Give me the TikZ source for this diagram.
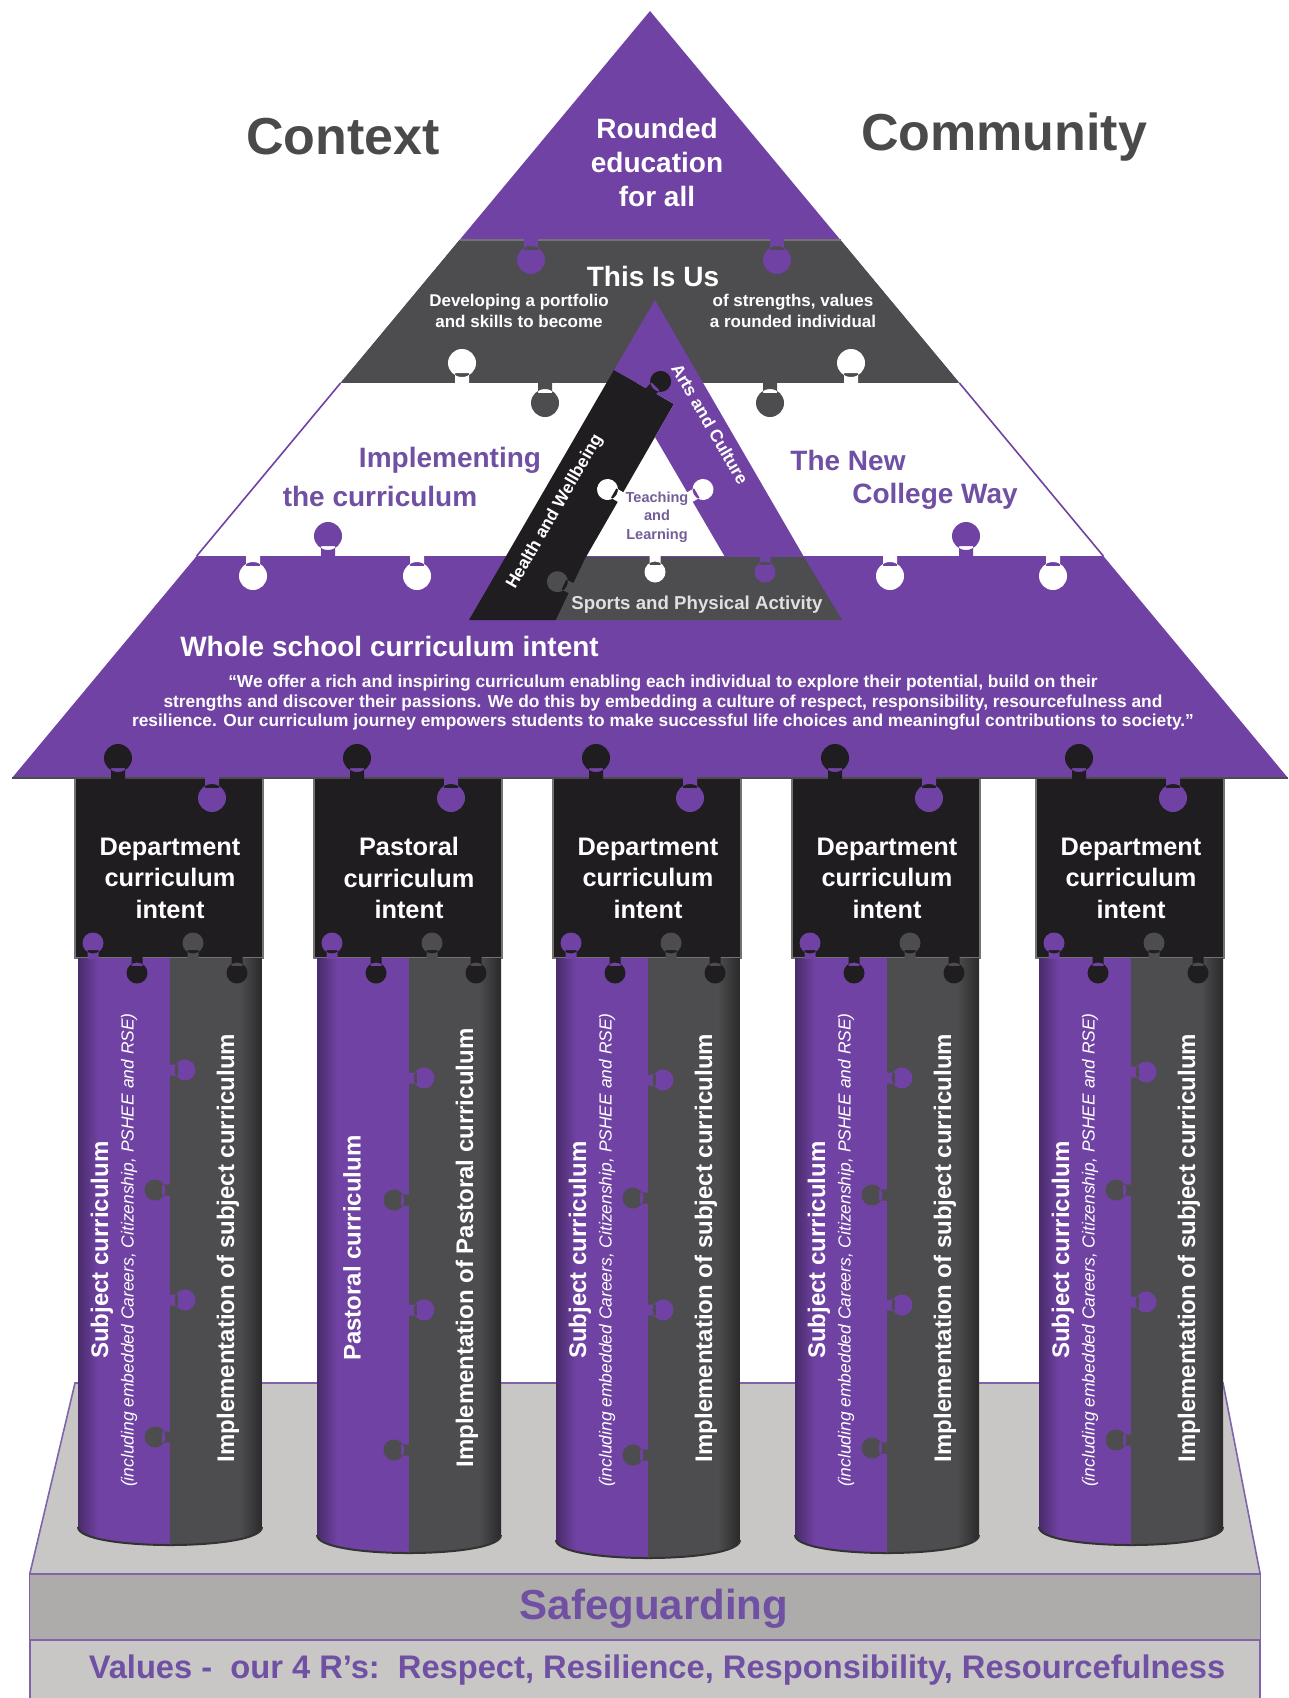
\documentclass[tikz,border=0pt]{standalone}
\usepackage{fontspec}
\setmainfont{Liberation Sans}
\usepackage{tikz}

\definecolor{schpurple}{RGB}{112,66,163}
\definecolor{schgrey}{RGB}{77,76,78}
\definecolor{schblack}{RGB}{31,29,32}
\definecolor{schtext}{RGB}{111,80,163}
\definecolor{titlegrey}{RGB}{74,74,74}
\definecolor{plinth}{RGB}{201,199,198}
\definecolor{plinthdark}{RGB}{174,171,171}
\definecolor{plinthline}{RGB}{128,100,170}

%puzzle knob: colour, point on the edge, direction (0 right, 90 down, -90 up)
\newcommand{\knob}[3]{\fill[#1, shift={#2}, rotate=#3] (-1,-7) rectangle (10,7) (20,0) circle (14);}
\newcommand{\smallknob}[3]{\fill[#1, shift={#2}, rotate=#3] (-1,-5.5) rectangle (8,5.5) (15,0) circle (10.5);}
%second line on the purple half of a shaft
\newcommand{\shaftnote}{\mdseries\itshape\fontsize{13.1}{15}\selectfont}

\begin{document}
\begin{tikzpicture}[x=0.75pt,y=0.75pt,yscale=-1,xscale=1,
  title/.style={text=titlegrey, font=\bfseries\fontsize{39}{47}\selectfont, inner sep=0.75pt},
  bandtext/.style={text=white, font=\bfseries\fontsize{21}{25.5}\selectfont, align=center, inner sep=0.75pt},
  bandsmall/.style={text=white, font=\bfseries\fontsize{12.75}{15.75}\selectfont, align=center, inner sep=0.75pt},
  violettext/.style={text=schtext, font=\bfseries\fontsize{21}{25.5}\selectfont, inner sep=0.75pt},
  quotetext/.style={text=white, font=\bfseries\fontsize{13}{14.6}\selectfont, align=center, inner sep=0.75pt},
  ringtext/.style={text=white, font=\bfseries\fontsize{13}{15}\selectfont, inner sep=0.75pt},
  captext/.style={text=white, font=\bfseries\fontsize{19}{23.6}\selectfont, align=center, inner sep=0.75pt},
  shafttext/.style={text=white, font=\bfseries\fontsize{18}{19}\selectfont, rotate=90, align=center, inner sep=0.75pt},
  plinthtext/.style={text=schtext, font=\bfseries\fontsize{24.5}{29}\selectfont, inner sep=0.75pt},
  capedge/.style={draw=black!55, line width=1.2},
  shaftedge/.style={draw=black!80, line width=1.5},
  purplerim/.style={left color=schpurple!65!black, right color=schpurple},
  greyrim/.style={left color=schgrey, right color=schgrey!55!black}
]
\useasboundingbox (0,0) rectangle (1288,1698);

%Shape: Polygon [plinth]
\fill[plinth] (75,1383) -- (1223,1383) -- (1260,1573) -- (1260,1698) -- (30,1698) -- (30,1573) -- cycle ;
\draw[plinthline, line width=1.2] (30,1698) -- (30,1573) -- (75,1383) -- (1223,1383) -- (1260,1573) -- (1260,1698) ;
%Shape: Rectangle [safeguarding band]
\fill[plinthdark] (30,1574) rectangle (1260,1640) ;
\draw[plinthline, line width=2.2] (30,1574) -- (1260,1574) (30,1640) -- (1260,1640) ;

%Shape: Triangle [roof]
\fill[schpurple] (650,11) -- (1288,778) -- (12,778) -- cycle ;
\begin{scope}
\clip (650,11) -- (1288,778) -- (12,778) -- cycle ;
%Shape: Rectangle [grey band]
\fill[schgrey] (0,240) rectangle (1288,383) ;
%Shape: Rectangle [white band]
\fill[white] (0,383) rectangle (1288,556) ;
\end{scope}
%Straight Lines [band edges]
\draw[schpurple, line width=1.2] (340.6,383) -- (196.7,556) ;
\draw[schpurple, line width=1.2] (959.4,383) -- (1103.3,556) ;
\draw[black!55, line width=1.5] (459.5,240) -- (840.5,240) ;

%Puzzle knobs of the roof bands
\knob{schpurple}{(531,240)}{90}
\knob{schpurple}{(777,240)}{90}
\knob{white}{(462,383)}{-90}
\knob{white}{(851,383)}{-90}
\knob{schgrey}{(545,383)}{90}
\knob{schgrey}{(770,383)}{90}
\knob{schpurple}{(328,556)}{-90}
\knob{schpurple}{(966,556)}{-90}
\knob{white}{(253,556)}{90}
\knob{white}{(417,556)}{90}
\knob{white}{(890,556)}{90}
\knob{white}{(1053,556)}{90}

%Shape: Polygon [Health and Wellbeing]
\fill[schblack] (469,620) -- (614,370) -- (674,404) -- (655,437) -- (586,557) -- (556,620) -- cycle ;
%Shape: Polygon [Arts and Culture]
\fill[schpurple] (614,370) -- (655,300) -- (804,557) -- (725,557) -- (655,437) -- (674,404) -- cycle ;
%Shape: Polygon [Sports and Physical Activity]
\fill[schgrey] (556,620) -- (586,557) -- (804,557) -- (842,620) -- cycle ;
\smallknob{schblack}{(650,392)}{-45}
\smallknob{white}{(620.5,497)}{-150}
\smallknob{white}{(690,497)}{-30}
\smallknob{white}{(655,557)}{90}
\smallknob{schgrey}{(571,588)}{205}
\smallknob{schpurple}{(765,557)}{90}

% Text Node
\node[title] (context) at (343,137) {Context};
\node[title] (community) at (1004,137) {Community};
\node[bandtext] (rounded) at (657,162) {Rounded\\education\\for all};
\node[bandtext] (thisisus) at (653,276) {This Is Us};
\node[bandsmall] (portfolio) at (519,311) {Developing a portfolio\\and skills to become};
\node[bandsmall] (strengths) at (793,311) {of strengths, values\\a rounded individual};
\node[violettext] (implementing) at (450,460) {Implementing};
\node[violettext] (thecurriculum) at (380,496) {the curriculum};
\node[violettext] (thenew) at (848,460) {The New};
\node[violettext] (collegeway) at (935,496) {College Way};
\node[ringtext, rotate=-60] (arts) at (710,424) {Arts and Culture};
\node[ringtext, rotate=60] (health) at (555,512) {Health and Wellbeing};
\node[ringtext, text=black!12, font=\bfseries\fontsize{14}{16}\selectfont] (sports) at (697,605) {Sports and Physical Activity};
\node[ringtext, text=schtext!70!gray, font=\bfseries\fontsize{10.9}{14}\selectfont, align=center] (teaching) at (657,517) {Teaching\\and\\Learning};
\node[bandtext, anchor=west] (whole) at (179,646) {Whole school curriculum intent};
\node[quotetext] (intent) at (663,703) {“We offer a rich and inspiring curriculum enabling each individual to explore their potential, build on their\\strengths and discover their passions. We do this by embedding a culture of respect, responsibility, resourcefulness and\\resilience. Our curriculum journey empowers students to make successful life choices and meaningful contributions to society.”};

%Shape: Rectangle [capitals]
\fill[schblack] (75,778) rectangle (263,958) ;
\draw[capedge] (75,778) rectangle (263,958) ;
\fill[schblack] (314,778) rectangle (502,958) ;
\draw[capedge] (314,778) rectangle (502,958) ;
\fill[schblack] (553,778) rectangle (741,958) ;
\draw[capedge] (553,778) rectangle (741,958) ;
\fill[schblack] (792,778) rectangle (980,958) ;
\draw[capedge] (792,778) rectangle (980,958) ;
\fill[schblack] (1036,778) rectangle (1224,958) ;
\draw[capedge] (1036,778) rectangle (1224,958) ;
\draw[black!70, line width=2] (12,778) -- (1288,778) ;
\knob{schblack}{(118,778)}{-90}
\knob{schpurple}{(212,778)}{90}
\knob{schblack}{(357,778)}{-90}
\knob{schpurple}{(451,778)}{90}
\knob{schblack}{(596,778)}{-90}
\knob{schpurple}{(690,778)}{90}
\knob{schblack}{(835,778)}{-90}
\knob{schpurple}{(929,778)}{90}
\knob{schblack}{(1079,778)}{-90}
\knob{schpurple}{(1173,778)}{90}

%Shape: Column [shaft 1]
\begin{scope}
\clip (78,958) -- (78,1527) .. controls (78,1551) and (262,1551) .. (262,1527) -- (262,958) -- cycle ;
\fill[schgrey] (78,950) rectangle (262,1570) ;
\fill[schpurple] (78,950) rectangle (170,1570) ;
\shade[purplerim] (78,950) rectangle (98,1570) ;
\shade[greyrim] (240,950) rectangle (262,1570) ;
\end{scope}
\draw[shaftedge] (78,1527) .. controls (78,1551) and (262,1551) .. (262,1527) ;
\draw[black!70] (170,958) -- (170,1545) ;
%Shape: Column [shaft 2]
\begin{scope}
\clip (317,958) -- (317,1535) .. controls (317,1559) and (501,1559) .. (501,1535) -- (501,958) -- cycle ;
\fill[schgrey] (317,950) rectangle (501,1570) ;
\fill[schpurple] (317,950) rectangle (409,1570) ;
\shade[purplerim] (317,950) rectangle (337,1570) ;
\shade[greyrim] (479,950) rectangle (501,1570) ;
\end{scope}
\draw[shaftedge] (317,1535) .. controls (317,1559) and (501,1559) .. (501,1535) ;
\draw[black!70] (409,958) -- (409,1553) ;
%Shape: Column [shaft 3]
\begin{scope}
\clip (556,958) -- (556,1540) .. controls (556,1564) and (740,1564) .. (740,1540) -- (740,958) -- cycle ;
\fill[schgrey] (556,950) rectangle (740,1570) ;
\fill[schpurple] (556,950) rectangle (648,1570) ;
\shade[purplerim] (556,950) rectangle (576,1570) ;
\shade[greyrim] (718,950) rectangle (740,1570) ;
\end{scope}
\draw[shaftedge] (556,1540) .. controls (556,1564) and (740,1564) .. (740,1540) ;
\draw[black!70] (648,958) -- (648,1558) ;
%Shape: Column [shaft 4]
\begin{scope}
\clip (795,958) -- (795,1535) .. controls (795,1559) and (979,1559) .. (979,1535) -- (979,958) -- cycle ;
\fill[schgrey] (795,950) rectangle (979,1570) ;
\fill[schpurple] (795,950) rectangle (887,1570) ;
\shade[purplerim] (795,950) rectangle (815,1570) ;
\shade[greyrim] (957,950) rectangle (979,1570) ;
\end{scope}
\draw[shaftedge] (795,1535) .. controls (795,1559) and (979,1559) .. (979,1535) ;
\draw[black!70] (887,958) -- (887,1553) ;
%Shape: Column [shaft 5]
\begin{scope}
\clip (1039,958) -- (1039,1527) .. controls (1039,1551) and (1223,1551) .. (1223,1527) -- (1223,958) -- cycle ;
\fill[schgrey] (1039,950) rectangle (1223,1570) ;
\fill[schpurple] (1039,950) rectangle (1131,1570) ;
\shade[purplerim] (1039,950) rectangle (1059,1570) ;
\shade[greyrim] (1201,950) rectangle (1223,1570) ;
\end{scope}
\draw[shaftedge] (1039,1527) .. controls (1039,1551) and (1223,1551) .. (1223,1527) ;
\draw[black!70] (1131,958) -- (1131,1545) ;

%Puzzle knobs between capitals and shafts
\smallknob{schpurple}{(93,958)}{-90}
\smallknob{schgrey}{(193,958)}{-90}
\smallknob{schblack}{(137,958)}{90}
\smallknob{schblack}{(237,958)}{90}
\smallknob{schpurple}{(332,958)}{-90}
\smallknob{schgrey}{(432,958)}{-90}
\smallknob{schblack}{(376,958)}{90}
\smallknob{schblack}{(476,958)}{90}
\smallknob{schpurple}{(571,958)}{-90}
\smallknob{schgrey}{(671,958)}{-90}
\smallknob{schblack}{(615,958)}{90}
\smallknob{schblack}{(715,958)}{90}
\smallknob{schpurple}{(810,958)}{-90}
\smallknob{schgrey}{(910,958)}{-90}
\smallknob{schblack}{(854,958)}{90}
\smallknob{schblack}{(954,958)}{90}
\smallknob{schpurple}{(1054,958)}{-90}
\smallknob{schgrey}{(1154,958)}{-90}
\smallknob{schblack}{(1098,958)}{90}
\smallknob{schblack}{(1198,958)}{90}

%Puzzle knobs along the shafts
\smallknob{schpurple}{(170,1070)}{0}
\smallknob{schgrey}{(170,1190)}{180}
\smallknob{schpurple}{(170,1300)}{0}
\smallknob{schgrey}{(170,1437)}{180}
\smallknob{schpurple}{(409,1078)}{0}
\smallknob{schgrey}{(409,1200)}{180}
\smallknob{schpurple}{(409,1310)}{0}
\smallknob{schgrey}{(409,1450)}{180}
\smallknob{schpurple}{(648,1080)}{0}
\smallknob{schgrey}{(648,1198)}{180}
\smallknob{schpurple}{(648,1310)}{0}
\smallknob{schgrey}{(648,1455)}{180}
\smallknob{schpurple}{(887,1078)}{0}
\smallknob{schgrey}{(887,1195)}{180}
\smallknob{schpurple}{(887,1305)}{0}
\smallknob{schgrey}{(887,1448)}{180}
\smallknob{schpurple}{(1131,1072)}{0}
\smallknob{schgrey}{(1131,1190)}{180}
\smallknob{schpurple}{(1131,1302)}{0}
\smallknob{schgrey}{(1131,1440)}{180}

% Text Node
\node[captext] (cap1) at (170,878) {Department\\curriculum\\intent};
\node[captext] (cap2) at (409,878) {Pastoral\\curriculum\\intent};
\node[captext] (cap3) at (648,878) {Department\\curriculum\\intent};
\node[captext] (cap4) at (887,878) {Department\\curriculum\\intent};
\node[captext] (cap5) at (1131,878) {Department\\curriculum\\intent};
\node[shafttext] (subject1) at (114,1250) {Subject curriculum\\{\shaftnote (including embedded Careers, Citizenship, PSHEE and RSE)}};
\node[shafttext] (pastoral2) at (352,1248) {Pastoral curriculum};
\node[shafttext] (subject3) at (592,1250) {Subject curriculum\\{\shaftnote (including embedded Careers, Citizenship, PSHEE and RSE)}};
\node[shafttext] (subject4) at (831,1250) {Subject curriculum\\{\shaftnote (including embedded Careers, Citizenship, PSHEE and RSE)}};
\node[shafttext] (subject5) at (1075,1250) {Subject curriculum\\{\shaftnote (including embedded Careers, Citizenship, PSHEE and RSE)}};
\node[shafttext] (impl1) at (228,1248) {Implementation of subject curriculum};
\node[shafttext] (impl2) at (467,1248) {Implementation of Pastoral curriculum};
\node[shafttext] (impl3) at (706,1248) {Implementation of subject curriculum};
\node[shafttext] (impl4) at (945,1248) {Implementation of subject curriculum};
\node[shafttext] (impl5) at (1189,1248) {Implementation of subject curriculum};
\node[plinthtext, font=\bfseries\fontsize{31.5}{36}\selectfont] (safeguarding) at (654,1609) {Safeguarding};
\node[plinthtext] (values) at (657,1670) {Values -\ \ our 4 R’s:\ \ Respect, Resilience, Responsibility, Resourcefulness};

\end{tikzpicture}
\end{document}
